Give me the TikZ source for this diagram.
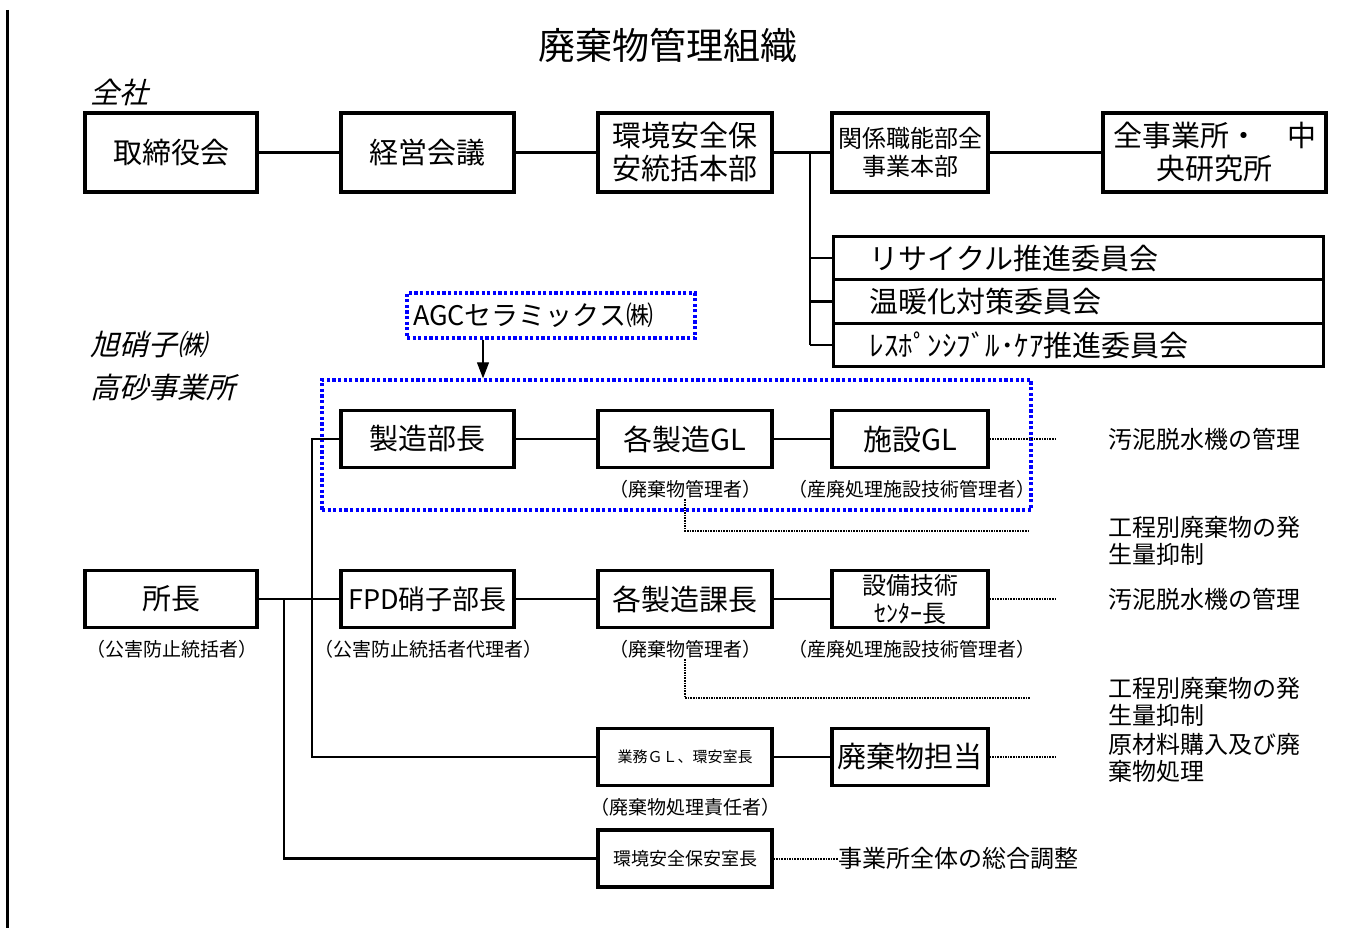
\documentclass[tikz,border=0pt]{standalone}
\usepackage{fontspec}
\setmainfont{Noto Sans CJK JP}
\newfontfamily\slfont[FakeSlant=0.25]{Noto Sans CJK JP}
\usepackage{tikz}
\usetikzlibrary{positioning}
\usetikzlibrary{arrows.meta}

\begin{document}
\begin{tikzpicture}[x=1pt,y=-1pt,
        box/.style={draw,line width=3.2pt,inner sep=0pt,align=center,minimum height=57,font=\fontsize{29}{33}\selectfont},
        cbox/.style={draw,line width=3.2pt,anchor=west,minimum height=43.5,inner xsep=36,inner ysep=0pt,text width=418,align=left,font=\fontsize{29}{33}\selectfont},
        blu/.style={draw=blue,line width=3.4pt,dash pattern=on 3.2pt off 2.4pt},
        note/.style={font=\fontsize{19}{22}\selectfont,inner sep=1pt},
        desc/.style={anchor=west,align=left,inner sep=0pt,font=\fontsize{24}{27}\selectfont},
        hd/.style={anchor=west,inner sep=0pt,font=\slfont\fontsize{29}{33}\selectfont},
        ln/.style={line width=2.2pt},
        dl/.style={line width=2pt,dash pattern=on 1.5pt off 1.1pt}]
        \useasboundingbox (0,0) rectangle (1348,928);
        \draw[line width=3pt] (7,10) -- (7,928);
        \node[font=\fontsize{37}{40}\selectfont] (title) at (668,45) {廃棄物管理組織};
        \node[hd] (zensha) at (90,92) {全社};
        \node[hd] (asahi) at (90,345) {旭硝子㈱};
        \node[hd] (takasago) at (90,388) {高砂事業所};

        \node[box,minimum width=172,minimum height=79] (torishimari) at (171,152.5) {取締役会};
        \node[box,minimum width=173,minimum height=79] (keiei) at (427.5,152.5) {経営会議};
        \node[box,minimum width=174,minimum height=79] (kankyo) at (685,152.5) {環境安全保\\安統括本部};
        \node[box,minimum width=156,minimum height=79,font=\fontsize{24}{28}\selectfont] (kankei) at (910,152.5) {関係職能部全\\事業本部};
        \node[box,minimum width=223,minimum height=79] (zenjigyo) at (1214.5,152.5) {全事業所・　中\\央研究所};
        \node[cbox] (recycle) at (832,258) {リサイクル推進委員会};
        \node[cbox] (ondan) at (832,301.5) {温暖化対策委員会};
        \node[cbox] (rcare) at (832,345) {ﾚｽﾎﾟﾝｼﾌﾞﾙ･ｹｱ推進委員会};
        \coordinate (brx) at (810,0);
        \draw[ln] (torishimari) -- (keiei);
        \draw[ln] (keiei) -- (kankyo);
        \draw[ln] (kankyo) -- (kankei);
        \draw[ln] (kankei) -- (zenjigyo);
        \draw[ln] (kankyo.east -| brx) -- (rcare.west -| brx);
        \foreach \c in {recycle,ondan,rcare}
            \draw[ln] (\c.west -| brx) -- (\c.west);

        \node[blu,minimum width=288,minimum height=45,text width=276,inner xsep=6,inner ysep=0pt,align=left,font=\fontsize{27}{30}\selectfont] (agc) at (551,315.5) {AGCセラミックス㈱};
        \node[blu,minimum width=709,minimum height=130,inner sep=0pt] (agcarea) at (676.5,445) {};
        \coordinate (agx) at (483,0);
        \draw[line width=1.2pt,-{Triangle[length=16pt,width=12pt]}] (agc.south -| agx) -- (agcarea.north -| agx);

        \node[box,minimum width=173] (seizo) at (427.5,439) {製造部長};
        \node[box,minimum width=174] (kakugl) at (685,439) {各製造GL};
        \node[box,minimum width=156] (shisetsu) at (910,439) {施設GL};
        \node[note] (kanri1) at (685,489) {（廃棄物管理者）};
        \node[note] (sanpai1) at (912,489) {（産廃処理施設技術管理者）};

        \node[box,minimum width=172] (shocho) at (171,599) {所長};
        \node[note] (tokatsu) at (172,649) {（公害防止統括者）};
        \node[box,minimum width=173,font=\fontsize{27}{30}\selectfont] (fpd) at (427.5,599) {FPD硝子部長};
        \node[note] (dairi) at (428,649) {（公害防止統括者代理者）};
        \node[box,minimum width=174] (kacho) at (685,599) {各製造課長};
        \node[note] (kanri2) at (685,649) {（廃棄物管理者）};
        \node[box,minimum width=156,font=\fontsize{24}{28}\selectfont] (setsubi) at (910,599) {設備技術\\ｾﾝﾀｰ長};
        \node[note] (sanpai2) at (912,649) {（産廃処理施設技術管理者）};

        \node[box,minimum width=174,font=\fontsize{15}{18}\selectfont] (gyomu) at (685,757) {業務ＧＬ、環安室長};
        \node[note] (sekinin) at (685,807) {（廃棄物処理責任者）};
        \node[box,minimum width=156] (tanto) at (910,757) {廃棄物担当};
        \node[box,minimum width=174,font=\fontsize{18}{21}\selectfont] (kanshitsu) at (685,858.5) {環境安全保安室長};

        \node[desc] (odei1) at (1108,439) {汚泥脱水機の管理};
        \node[desc] (kotei1) at (1108,540.5) {工程別廃棄物の発\\生量抑制};
        \node[desc] (odei2) at (1108,599) {汚泥脱水機の管理};
        \node[desc] (kotei2) at (1108,701.5) {工程別廃棄物の発\\生量抑制};
        \node[desc] (genzai) at (1108,758) {原材料購入及び廃\\棄物処理};
        \node[desc] (sogo) at (838,858.5) {事業所全体の総合調整};

        \draw[ln] (seizo) -- (kakugl);
        \draw[ln] (kakugl) -- (shisetsu);
        \draw[ln] (shocho) -- (fpd);
        \draw[ln] (fpd) -- (kacho);
        \draw[ln] (kacho) -- (setsubi);
        \draw[ln] (gyomu) -- (tanto);
        \coordinate (lx1) at (312,0);
        \coordinate (lx2) at (284,0);
        \draw[ln] (seizo.west) -- (seizo.west -| lx1) -- (gyomu.west -| lx1) -- (gyomu.west);
        \draw[ln] (shocho.east -| lx2) |- (kanshitsu.west);

        \coordinate (dx) at (1055,0);
        \coordinate (e1) at (1030,531);
        \coordinate (e2) at (1030,698);
        \draw[dl] (shisetsu.east) -- (shisetsu.east -| dx);
        \draw[dl] (setsubi.east) -- (setsubi.east -| dx);
        \draw[dl] (tanto.east) -- (tanto.east -| dx);
        \draw[dl] (kanshitsu.east) -- (sogo.west);
        \draw[dl] (kanri1.south) |- (e1);
        \draw[dl] (kanri2.south) |- (e2);
    \end{tikzpicture}
\end{document}
